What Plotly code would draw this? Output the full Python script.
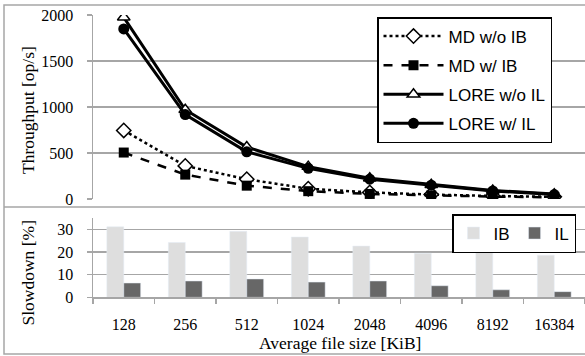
import plotly.graph_objects as go

sizes = ["128", "256", "512", "1024", "2048", "4096", "8192", "16384"]
md_wo_ib = [745, 360, 215, 112, 72, 48, 33, 24]
md_w_ib = [505, 265, 145, 85, 55, 38, 26, 18]
lore_wo_il = [1975, 970, 565, 352, 225, 155, 93, 53]
lore_w_il = [1848, 918, 513, 333, 215, 150, 88, 48]
slow_ib = [31.1, 24.2, 29.1, 26.6, 22.6, 19.4, 23.3, 18.6]
slow_il = [6.3, 7.2, 8.1, 6.7, 7.2, 5.1, 3.3, 2.5]

W, H = 585, 356
def px(x):
    return x / W
def py(y):
    return (H - y) / H

SERIF = "Liberation Serif"
SANS = "Liberation Sans"
GRID = "#a6a6a6"

fig = go.Figure()

fig.add_trace(go.Scatter(x=sizes, y=md_wo_ib, name="MD w/o IB", mode="lines+markers",
                         line=dict(color="black", width=2.5, dash="dot"),
                         marker=dict(symbol="diamond", size=11, color="white",
                                     line=dict(color="black", width=1.5)),
                         xaxis="x", yaxis="y", legendgroup="a"))
fig.add_trace(go.Scatter(x=sizes, y=md_w_ib, name="MD w/ IB", mode="lines+markers",
                         line=dict(color="black", width=2.5, dash="dash"),
                         marker=dict(symbol="square", size=10, color="black"),
                         xaxis="x", yaxis="y", legendgroup="b"))
fig.add_trace(go.Scatter(x=sizes, y=lore_wo_il, name="LORE w/o IL", mode="lines+markers",
                         line=dict(color="black", width=3),
                         marker=dict(symbol="triangle-up", size=11, color="white",
                                     line=dict(color="black", width=1.5)),
                         xaxis="x", yaxis="y", legendgroup="c"))
fig.add_trace(go.Scatter(x=sizes, y=lore_w_il, name="LORE w/ IL", mode="lines+markers",
                         line=dict(color="black", width=3),
                         marker=dict(symbol="circle", size=11, color="black"),
                         xaxis="x", yaxis="y", legendgroup="d"))

fig.add_trace(go.Bar(x=sizes, y=slow_ib, name="IB", marker=dict(color="#dedede"),
                     xaxis="x2", yaxis="y2", legend="legend2"))
fig.add_trace(go.Bar(x=sizes, y=slow_il, name="IL", marker=dict(color="#676767"),
                     xaxis="x2", yaxis="y2", legend="legend2"))

xdom = [px(93), 1.0]
tickfont = dict(family=SERIF, size=16, color="black")

fig.update_layout(
    width=W, height=H,
    margin=dict(l=0, r=0, t=0, b=0, pad=0),
    paper_bgcolor="white", plot_bgcolor="white",
    barmode="group", bargap=0.45, bargroupgap=0,
    xaxis=dict(domain=xdom, anchor="y", type="category", range=[-0.5, 7.5],
               showticklabels=False, showgrid=False, showline=False, ticks="",
               zeroline=False, automargin=False),
    yaxis=dict(domain=[py(199), py(15)], anchor="x", range=[0, 2000],
               tickvals=[0, 500, 1000, 1500, 2000], showgrid=True, gridcolor=GRID,
               gridwidth=1.5, showline=True, linecolor=GRID, linewidth=1.5,
               ticks="outside", ticklen=5, tickcolor=GRID, tickwidth=1.5,
               tickfont=tickfont, ticklabelstandoff=10, zeroline=False,
               automargin=False),
    xaxis2=dict(domain=xdom, anchor="y2", type="category", range=[-0.5, 7.5],
                showgrid=False, showline=True, linecolor=GRID, linewidth=1.5,
                ticks="outside", tickson="boundaries", ticklen=5, tickcolor=GRID,
                tickwidth=1.5, tickfont=tickfont, ticklabelstandoff=12,
                zeroline=False, automargin=False),
    yaxis2=dict(domain=[py(297.3), py(218)], anchor="x2", range=[0, 35],
                tickvals=[0, 10, 20, 30], showgrid=True, gridcolor=GRID,
                gridwidth=1.5, showline=True, linecolor=GRID, linewidth=1.5,
                ticks="outside", ticklen=5, tickcolor=GRID, tickwidth=1.5,
                tickfont=tickfont, ticklabelstandoff=10, zeroline=False,
                automargin=False),
    legend=dict(x=px(377), y=py(17), xanchor="left", yanchor="top",
                bgcolor="white", bordercolor="black", borderwidth=1.5,
                font=dict(family=SANS, size=17, color="black"),
                traceorder="grouped", tracegroupgap=4, itemwidth=60),
    legend2=dict(x=px(452), y=py(214), xanchor="left", yanchor="top",
                 orientation="h", bgcolor="white", bordercolor="black", borderwidth=1.5,
                 font=dict(family=SANS, size=17, color="black")),
    showlegend=True,
)

# panel borders
border = dict(color="#a6a6a6", width=1.5)
fig.add_shape(type="rect", xref="paper", yref="paper", x0=px(4), x1=px(590),
              y0=py(354), y1=py(5), line=border, layer="below")
fig.add_shape(type="line", xref="paper", yref="paper", x0=px(4), x1=px(590),
              y0=py(207), y1=py(207), line=border, layer="below")

titlefont = dict(family=SERIF, size=17.5, color="black")
fig.add_annotation(text="Throughput [op/s]", xref="paper", yref="paper",
                   x=px(28), y=py(110), textangle=-90, showarrow=False,
                   xanchor="center", yanchor="middle", font=titlefont)
fig.add_annotation(text="Slowdown [%]", xref="paper", yref="paper",
                   x=px(27), y=py(273.5), textangle=-90, showarrow=False,
                   xanchor="center", yanchor="middle", font=titlefont)
fig.add_annotation(text="Average file size [KiB]", xref="paper", yref="paper",
                   x=px(339.5), y=py(343), showarrow=False,
                   xanchor="center", yanchor="middle", font=titlefont)

fig.write_html("out.html", config={"displayModeBar": False, "staticPlot": True},
               post_script="document.body.style.margin='0px';document.body.style.overflow='hidden';")
